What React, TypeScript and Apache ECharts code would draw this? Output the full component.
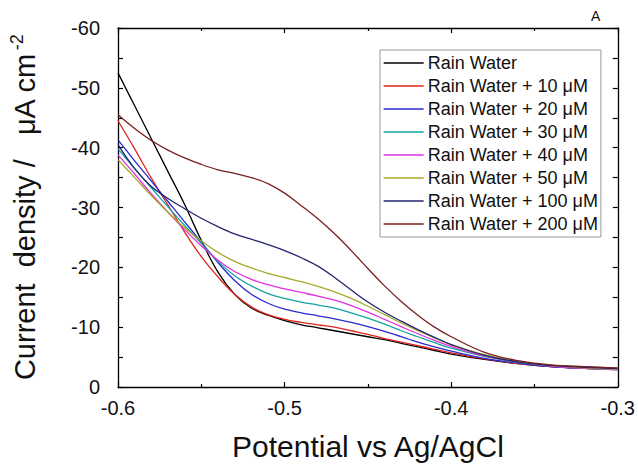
import React, { useEffect, useRef } from "react";
import * as echarts from "echarts";

const potential = [-0.6, -0.59, -0.58, -0.57, -0.56, -0.55, -0.54, -0.53, -0.52, -0.51, -0.5, -0.49, -0.48, -0.47, -0.46, -0.45, -0.44, -0.43, -0.42, -0.41, -0.4, -0.38, -0.36, -0.34, -0.32, -0.3];

const rainWater = [-52.5, -47.0, -41.5, -36.0, -30.5, -24.5, -19.2, -15.5, -13.2, -12.0, -11.1, -10.4, -9.9, -9.4, -8.9, -8.4, -7.9, -7.3, -6.7, -6.1, -5.5, -4.6, -3.9, -3.4, -3.1, -3.0];
const rw10 = [-44.5, -39.8, -34.9, -30.4, -25.9, -21.8, -18.4, -15.5, -13.4, -12.1, -11.3, -10.8, -10.4, -10.0, -9.4, -8.8, -8.1, -7.5, -6.9, -6.3, -5.7, -4.7, -3.9, -3.4, -3.1, -2.9];
const rw20 = [-41.3, -37.8, -34.4, -31.0, -27.6, -24.2, -20.8, -17.8, -15.5, -14.0, -13.0, -12.4, -11.9, -11.4, -10.8, -10.1, -9.3, -8.4, -7.5, -6.7, -6.0, -4.8, -4.0, -3.4, -3.1, -2.9];
const rw30 = [-39.8, -36.5, -33.3, -30.1, -27.0, -24.0, -21.0, -18.6, -16.9, -15.6, -14.8, -14.2, -13.7, -13.2, -12.4, -11.5, -10.5, -9.4, -8.4, -7.4, -6.5, -5.1, -4.1, -3.5, -3.1, -2.9];
const rw40 = [-38.8, -35.6, -32.3, -29.2, -26.3, -23.6, -21.2, -19.3, -18.0, -17.1, -16.4, -15.8, -15.2, -14.5, -13.6, -12.5, -11.3, -10.1, -8.9, -7.8, -6.8, -5.2, -4.2, -3.5, -3.1, -2.9];
const rw50 = [-38.0, -35.0, -32.0, -29.2, -26.6, -24.4, -22.5, -21.0, -19.9, -19.0, -18.3, -17.6, -16.8, -15.9, -14.8, -13.5, -12.1, -10.7, -9.4, -8.2, -7.1, -5.4, -4.3, -3.6, -3.2, -3.0];
const rw100 = [-40.5, -36.5, -33.5, -31.5, -29.8, -28.2, -26.8, -25.6, -24.7, -23.8, -22.8, -21.6, -20.2, -18.3, -16.2, -14.2, -12.5, -11.0, -9.6, -8.3, -7.1, -5.3, -4.2, -3.6, -3.3, -3.1];
const rw200 = [-45.5, -43.2, -41.2, -39.6, -38.3, -37.2, -36.3, -35.7, -35.0, -34.0, -32.4, -30.3, -28.1, -25.6, -22.8, -19.8, -16.9, -14.3, -12.0, -10.0, -8.4, -5.8, -4.4, -3.7, -3.4, -3.2];

const seriesNames = [
  "Rain Water",
  "Rain Water + 10 μM",
  "Rain Water + 20 μM",
  "Rain Water + 30 μM",
  "Rain Water + 40 μM",
  "Rain Water + 50 μM",
  "Rain Water + 100 μM",
  "Rain Water + 200 μM",
];
const seriesValues = [rainWater, rw10, rw20, rw30, rw40, rw50, rw100, rw200];
const seriesColors = ["#000000", "#e0241f", "#2a2ad0", "#12a3a0", "#e030e0", "#a8a828", "#23236e", "#7a1f1f"];

const FONT = "Arial, 'Liberation Sans', sans-serif";

export default function App() {
  const ref = useRef<HTMLDivElement>(null);
  useEffect(() => {
    if (!ref.current) return;
    const chart = echarts.init(ref.current, null, { renderer: "svg" });
    const axisCommon = {
      axisLine: { show: true, onZero: false, lineStyle: { color: "#000", width: 1.3 } },
      splitLine: { show: false },
    };
    const tick = { show: true, inside: true, length: 5, lineStyle: { color: "#000", width: 1.2 } };
    chart.setOption({
      animation: false,
      backgroundColor: "#fff",
      grid: { left: 118, top: 28, width: 501, height: 369 },
      legend: {
        orient: "vertical",
        left: 380,
        top: 50,
        padding: [4, 3, 4, 3],
        itemWidth: 40,
        itemHeight: 14,
        itemGap: 5,
        borderColor: "#999",
        borderWidth: 1,
        itemStyle: { opacity: 0 },
        lineStyle: { width: 1.3 },
        textStyle: { fontSize: 18, lineHeight: 16, fontFamily: FONT, color: "#111", padding: [0, 0, 0, -1] },
        data: seriesNames,
      },
      xAxis: [
        {
          type: "value",
          min: -0.6,
          max: -0.3,
          interval: 0.1,
          position: "bottom",
          name: "Potential vs Ag/AgCl",
          nameLocation: "middle",
          nameGap: 44,
          nameTextStyle: { fontSize: 30, fontFamily: FONT, color: "#111" },
          axisTick: tick,
          minorTick: { show: true, splitNumber: 2, length: 3, lineStyle: { color: "#000", width: 1.2 } },
          axisLabel: { fontSize: 20, fontFamily: FONT, color: "#111", margin: 11, formatter: (v: number) => v.toFixed(1) },
          ...axisCommon,
        },
        {
          type: "value",
          min: -0.6,
          max: -0.3,
          interval: 0.1,
          position: "top",
          axisTick: tick,
          minorTick: { show: true, splitNumber: 2, length: 3, lineStyle: { color: "#000", width: 1.2 } },
          axisLabel: { show: false },
          ...axisCommon,
        },
      ],
      yAxis: [
        {
          type: "value",
          inverse: true,
          min: -60,
          max: 0,
          interval: 10,
          position: "left",
          name: "{a|Current  density /   μA cm}{s|-2}",
          nameLocation: "middle",
          nameGap: 76,
          nameRotate: 90,
          nameTextStyle: {
            rich: {
              a: { fontSize: 29, fontFamily: FONT, color: "#111", lineHeight: 34 },
              s: { fontSize: 18, fontFamily: FONT, color: "#111", lineHeight: 34, verticalAlign: "top", padding: [0, 0, 12, 3] },
            },
          },
          axisTick: tick,
          minorTick: { show: true, splitNumber: 2, length: 5, lineStyle: { color: "#000", width: 1.2 } },
          axisLabel: { fontSize: 20, fontFamily: FONT, color: "#111", margin: 18 },
          ...axisCommon,
        },
        {
          type: "value",
          inverse: true,
          min: -60,
          max: 0,
          interval: 10,
          position: "right",
          axisTick: tick,
          minorTick: { show: true, splitNumber: 2, length: 5, lineStyle: { color: "#000", width: 1.2 } },
          axisLabel: { show: false },
          ...axisCommon,
        },
      ],
      graphic: [
        {
          type: "text",
          left: 591,
          top: 9,
          style: { text: "A", fontSize: 14, fontFamily: FONT, fill: "#111" },
        },
      ],
      series: seriesNames.map((name, i) => ({
        name,
        type: "line",
        xAxisIndex: 0,
        yAxisIndex: 0,
        smooth: 0.4,
        symbol: "none",
        color: seriesColors[i],
        lineStyle: { width: 1.3, color: seriesColors[i] },
        data: potential.map((x, j) => [x, seriesValues[i][j]]),
      })),
    });
    return () => chart.dispose();
  }, []);
  return <div ref={ref} style={{ width: 638, height: 466, position: "absolute", left: 0, top: 0 }} />;
}
